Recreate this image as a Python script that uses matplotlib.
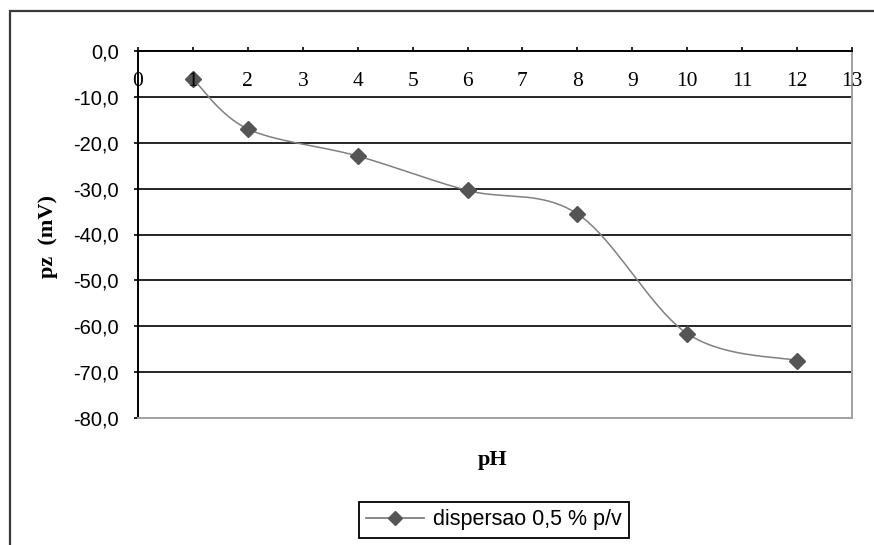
import numpy as np
import matplotlib
matplotlib.use("Agg")
import matplotlib.pyplot as plt
from matplotlib.patches import Rectangle
import matplotlib.transforms as mtransforms

# ---- data ----
ph = [1, 2, 4, 6, 8, 10, 12]
pz = [-6.1, -17.0, -22.9, -30.4, -35.5, -61.6, -67.5]
series_label = "dispersao 0,5 % p/v"
x_ticks = list(range(0, 14))
x_ticklabels = [str(v) for v in x_ticks]
y_ticks = [0, -10, -20, -30, -40, -50, -60, -70, -80]
y_ticklabels = ["0,0", "-10,0", "-20,0", "-30,0", "-40,0", "-50,0", "-60,0", "-70,0", "-80,0"]
x_title = "pH"
y_title = "pz  (mV)"


def smooth(xs, ys, n=40):
    """Excel-like smoothed line (Catmull-Rom as cubic Bezier)."""
    P = np.column_stack([xs, ys]).astype(float)
    P_ext = np.vstack([P[0], P, P[-1]])
    out = []
    t = np.linspace(0, 1, n)[:, None]
    for i in range(len(P) - 1):
        p0 = P_ext[i + 1]
        p3 = P_ext[i + 2]
        c1 = p0 + (P_ext[i + 2] - P_ext[i]) / 6.0
        c2 = p3 - (P_ext[i + 3] - P_ext[i + 1]) / 6.0
        seg = ((1 - t) ** 3) * p0 + 3 * ((1 - t) ** 2) * t * c1 + 3 * (1 - t) * t ** 2 * c2 + t ** 3 * p3
        out.append(seg if i == 0 else seg[1:])
    out = np.vstack(out)
    return out[:, 0], out[:, 1]


W, H = 874, 545
fig = plt.figure(figsize=(W / 100, H / 100), dpi=100)

# outer chart-area border (cropped on right/bottom)
fig.patches.append(Rectangle((10 / W, -0.05), 1.2, 1 - 11 / H + 0.05,
                             transform=fig.transFigure, fill=False,
                             edgecolor="#3a3a3a", linewidth=1.6))

left, right, top, bottom = 138, 852, 51, 418
ax = fig.add_axes([left / W, 1 - bottom / H, (right - left) / W, (bottom - top) / H])
ax.set_xlim(0, 13)
ax.set_ylim(-80, 0)

# gridlines
for yv in y_ticks[1:-1]:
    ax.axhline(yv, color="black", linewidth=1.2, zorder=1)

# spines
ax.spines["top"].set_color("black")
ax.spines["top"].set_linewidth(1.4)
ax.spines["left"].set_color("black")
ax.spines["left"].set_linewidth(1.4)
ax.spines["right"].set_color("#a0a0a0")
ax.spines["right"].set_linewidth(1.4)
ax.spines["bottom"].set_color("#a0a0a0")
ax.spines["bottom"].set_linewidth(1.4)

ax.set_xticks(x_ticks)
ax.set_yticks(y_ticks)
ax.set_yticklabels(y_ticklabels, fontfamily="Liberation Sans", fontsize=14.5)
ax.tick_params(axis="x", top=True, bottom=False, labeltop=False, labelbottom=False,
               direction="out", length=3, width=1.2, color="black")
ax.tick_params(axis="y", left=True, direction="out", length=3, width=1.2, pad=11, color="black")

# x tick labels drawn just below the top axis line (axis crosses at 0)
offs = mtransforms.offset_copy(ax.transData, fig=fig, x=0, y=-30 * 72 / 100, units="points")
for xv, lab in zip(x_ticks, x_ticklabels):
    ax.text(xv, 0, lab, transform=offs, ha="center", va="center",
            fontfamily="Liberation Serif", fontsize=15.5, color="black", zorder=5)

sx, sy = smooth(ph, pz)
ax.plot(sx, sy, color="#808080", linewidth=1.1, zorder=3)
ax.plot(ph, pz, linestyle="none", marker="D", markersize=8, color="#555555", zorder=4)

# axis titles
fig.text(493 / W, 1 - 460 / H, x_title, ha="center", va="center",
         fontfamily="Liberation Serif", fontweight="bold", fontsize=16)
fig.text(48 / W, 1 - 237 / H, y_title, ha="center", va="center", rotation=90,
         fontfamily="Liberation Serif", fontweight="bold", fontsize=16)

# legend
h, = ax.plot([], [], color="#808080", linewidth=1.3, marker="D", markersize=7,
             markerfacecolor="#555555", markeredgecolor="#555555")
leg = fig.legend([h], [series_label], loc="center", bbox_to_anchor=(494 / W, 1 - 520 / H),
                 frameon=True, fancybox=False, edgecolor="black", framealpha=1,
                 prop={"family": "Liberation Sans", "size": 15.5}, handlelength=2.7,
                 borderpad=0.35, handletextpad=0.4, borderaxespad=0)
leg.get_frame().set_linewidth(1.3)

fig.savefig("out.png", dpi=100)
